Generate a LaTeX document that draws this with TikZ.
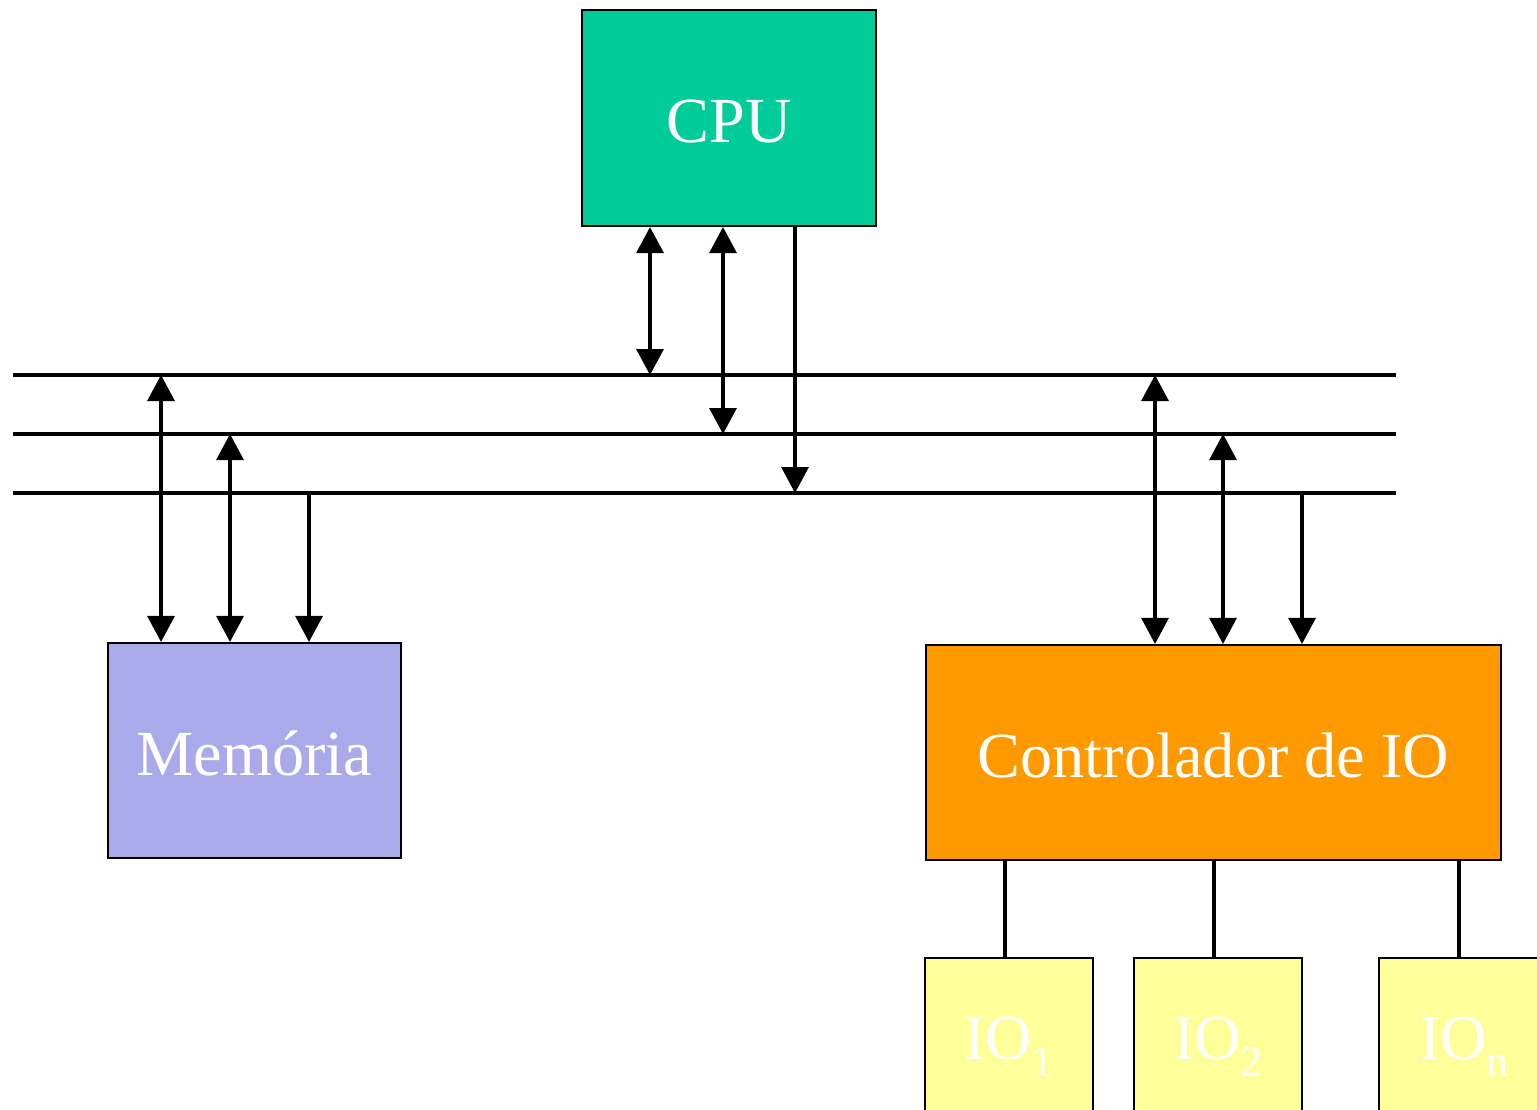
\documentclass[tikz,border=0pt]{standalone}
\usepackage{fontspec}
\setmainfont{Liberation Serif}
\usetikzlibrary{arrows.meta}
\definecolor{cpucol}{HTML}{00CC99}
\definecolor{memcol}{HTML}{AAAAEB}
\definecolor{ctlcol}{HTML}{FF9900}
\definecolor{iocol}{HTML}{FFFF99}
% lowered index after a device name
\newcommand{\devidx}[1]{\raisebox{-4.8pt}{\fontsize{12.5}{14}\selectfont #1}}
\tikzset{
  unit/.style={draw=black, line width=0.6pt, inner sep=0pt, text=white,
    text height=16pt, text depth=1.8pt,
    font=\fontsize{18.3}{22}\selectfont},
  wire/.style={line width=0.9pt},
  both/.style={wire, {Triangle[length=0.26cm,width=0.27cm]}-{Triangle[length=0.26cm,width=0.27cm]}},
  down/.style={wire, -{Triangle[length=0.26cm,width=0.27cm]}},
}
\begin{document}
\begin{tikzpicture}
\clip (0,0) rectangle (15.37,-11.09);
\useasboundingbox (0,0) rectangle (15.37,-11.09);

% units
\node[unit, fill=cpucol, minimum width=2.94cm, minimum height=2.16cm] (cpu) at (7.29,-1.18) {CPU};
\node[unit, fill=memcol, minimum width=2.93cm, minimum height=2.15cm] (mem) at (2.545,-7.505) {Memória};
\node[unit, fill=ctlcol, minimum width=5.75cm, minimum height=2.15cm] (ctl) at (12.135,-7.525) {Controlador de IO};
\node[unit, fill=iocol, minimum width=1.68cm, minimum height=1.54cm] (io1) at (10.09,-10.35) {IO\devidx{1}};
\node[unit, fill=iocol, minimum width=1.68cm, minimum height=1.54cm] (io2) at (12.18,-10.35) {IO\devidx{2}};
\node[unit, fill=iocol, minimum width=1.70cm, minimum height=1.54cm] (ion) at (14.64,-10.35) {IO\devidx{n}};

% system bus: three lines
\coordinate (bus1L) at (0.13,-3.75); \coordinate (bus1R) at (13.96,-3.75);
\coordinate (bus2L) at (0.13,-4.34); \coordinate (bus2R) at (13.96,-4.34);
\coordinate (bus3L) at (0.13,-4.93); \coordinate (bus3R) at (13.96,-4.93);
\draw[wire] (bus1L) -- (bus1R);
\draw[wire] (bus2L) -- (bus2R);
\draw[wire] (bus3L) -- (bus3R);

% taps on the bus
\coordinate (c1) at (6.50,-3.75);
\coordinate (c2) at (7.23,-4.34);
\coordinate (c3) at (7.95,-4.93);
\coordinate (m1) at (1.61,-3.75);
\coordinate (m2) at (2.30,-4.34);
\coordinate (m3) at (3.09,-4.93);
\coordinate (k1) at (11.55,-3.75);
\coordinate (k2) at (12.23,-4.34);
\coordinate (k3) at (13.02,-4.93);

% CPU <-> bus
\draw[both] (cpu.south -| c1) -- (c1);
\draw[both] (cpu.south -| c2) -- (c2);
\draw[down] (cpu.south -| c3) -- (c3);

% bus <-> memory
\draw[both] (m1) -- (mem.north -| m1);
\draw[both] (m2) -- (mem.north -| m2);
\draw[down] (m3) -- (mem.north -| m3);

% bus <-> IO controller
\draw[both] (k1) -- (ctl.north -| k1);
\draw[both] (k2) -- (ctl.north -| k2);
\draw[down] (k3) -- (ctl.north -| k3);

% controller to devices
\coordinate (d1) at (10.05,0);
\coordinate (d2) at (12.14,0);
\coordinate (dn) at (14.59,0);
\draw[wire] (ctl.south -| d1) -- (io1.north -| d1);
\draw[wire] (ctl.south -| d2) -- (io2.north -| d2);
\draw[wire] (ctl.south -| dn) -- (ion.north -| dn);
\end{tikzpicture}
\end{document}
